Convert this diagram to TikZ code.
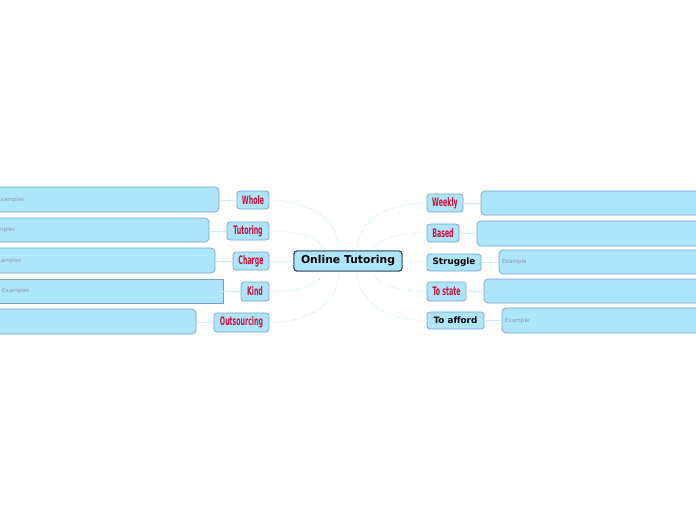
\documentclass[tikz,border=0pt]{standalone}
\usepackage{fontspec}
\setmainfont{DejaVu Sans}
\newfontfamily\condfont{DejaVu Sans Condensed}
\usetikzlibrary{calc}
\definecolor{nodefill}{HTML}{ADE5FD}
\definecolor{nodeborder}{HTML}{7A9FCB}
\definecolor{centerborder}{HTML}{1C2F4C}
\definecolor{redtext}{HTML}{D0103A}
\definecolor{dotline}{HTML}{A6DCF4}
\definecolor{solidline}{HTML}{CDEBF8}
\definecolor{greytext}{HTML}{8A9AA6}
\newcommand{\redlbl}[1]{\scalebox{0.74}[1.25]{\condfont\bfseries\fontsize{9.4}{9}\selectfont\color{redtext}#1}}
\tikzset{
  topic/.style={draw=nodeborder, fill=nodefill, rounded corners=3pt, line width=0.7pt, inner sep=0pt, anchor=center},
  blacklbl/.style={font=\bfseries\fontsize{8.8}{9}\selectfont, text=black},
  central/.style={draw=centerborder, fill=nodefill, rounded corners=3pt, line width=0.9pt, inner sep=0pt, minimum width=108pt, minimum height=20pt, font=\bfseries\fontsize{10.8}{11}\selectfont},
  bigbox/.style={draw=nodeborder, fill=nodefill, rounded corners=4pt, line width=0.7pt},
  boxtxt/.style={font=\fontsize{5.6}{6}\selectfont, text=greytext, anchor=west, inner sep=0pt},
  dotcon/.style={draw=dotline, dotted, line width=0.8pt},
  solcon/.style={draw=solidline, line width=0.8pt},
}
\begin{document}
\begin{tikzpicture}[x=1pt,y=-1pt]
\useasboundingbox (0,0) rectangle (696,520);
\fill[white] (0,0) rectangle (696,520);

% big boxes left
\draw[bigbox] (-6,187) rectangle (219,212); \coordinate (L1) at (219,199.5);
\draw[bigbox] (-14,218) rectangle (209,242); \coordinate (L2) at (209,230);
\draw[bigbox] (-8,248) rectangle (215,273); \coordinate (L3) at (215,260.5);
\draw[draw=nodeborder, fill=nodefill, line width=0.7pt] (-2,279) rectangle (223,303); \coordinate (L4) at (223,291);
\draw[bigbox] (-10,309) rectangle (196,334); \coordinate (L5) at (196,321.5);
\node[boxtxt] (t1) at (-3,199.5) {Examples};
\node[boxtxt] (t2) at (-12,230) {Examples};
\node[boxtxt] (t3) at (-6,260.5) {Examples};
\node[boxtxt] (t4) at (2,291) {Examples};

% big boxes right
\draw[bigbox] (481,191) rectangle (720,215); \coordinate (R1) at (481,203);
\draw[bigbox] (477,221) rectangle (720,246); \coordinate (R2) at (477,233);
\draw[bigbox] (499,250) rectangle (720,274); \coordinate (R3) at (499,262);
\draw[bigbox] (484,279) rectangle (720,303); \coordinate (R4) at (484,291);
\draw[bigbox] (502,308) rectangle (720,333); \coordinate (R5) at (502,320.5);
\node[boxtxt] (t5) at (502,262) {Example};
\node[boxtxt] (t6) at (505,320.5) {Example};

% left topics
\node[topic, minimum width=32pt, minimum height=18pt] (whole) at (253,200) {\redlbl{Whole}};
\node[topic, minimum width=42pt, minimum height=18pt] (tut) at (248,231) {\redlbl{Tutoring}};
\node[topic, minimum width=36pt, minimum height=18pt] (charge) at (251,261) {\redlbl{Charge}};
\node[topic, minimum width=28pt, minimum height=19pt] (kind) at (255,291.5) {\redlbl{Kind}};
\node[topic, minimum width=55pt, minimum height=19pt] (outs) at (241.5,322.5) {\redlbl{Outsourcing}};

% right topics
\node[topic, minimum width=36pt, minimum height=18pt] (weekly) at (445,203) {\redlbl{Weekly}};
\node[topic, minimum width=32pt, minimum height=18pt] (based) at (443,233) {\redlbl{Based}};
\node[topic, blacklbl, minimum width=54pt, minimum height=17pt] (strug) at (454,262.5) {Struggle};
\node[topic, minimum width=39pt, minimum height=19pt] (tostate) at (446.5,291.5) {\redlbl{To state}};
\node[topic, blacklbl, minimum width=57pt, minimum height=17pt] (toaff) at (455.5,320.5) {To afford};

% short connectors
\draw[solcon] (whole.west) -- (whole.west -| L1);
\draw[solcon] (tut.west) -- (tut.west -| L2);
\draw[solcon] (charge.west) -- (charge.west -| L3);
\draw[solcon] (kind.west) -- (kind.west -| L4);
\draw[solcon] (outs.west) -- (outs.west -| L5);
\draw[solcon] (weekly.east) -- (weekly.east -| R1);
\draw[solcon] (based.east) -- (based.east -| R2);
\draw[solcon] (strug.east) -- (strug.east -| R3);
\draw[solcon] (tostate.east) -- (tostate.east -| R4);
\draw[solcon] (toaff.east) -- (toaff.east -| R5);

% center (placed for anchors)
\path (348,261) coordinate (cc);
\node[central] (c) at (cc) {Online Tutoring};

% dotted curves
\coordinate (nlo) at ($(c.north)+(-9,0)$);
\coordinate (nli) at ($(c.north)+(-25,0)$);
\coordinate (nro) at ($(c.north)+(9,0)$);
\coordinate (nri) at ($(c.north)+(26,0)$);
\coordinate (slo) at ($(c.south)+(-9,0)$);
\coordinate (sli) at ($(c.south)+(-25,0)$);
\coordinate (sro) at ($(c.south)+(9,0)$);
\coordinate (sri) at ($(c.south)+(26,0)$);
\draw[dotcon] (nlo) .. controls ($(nlo)!0.6!(nlo |- whole.east)$) and ($(whole.east)!0.6!(nlo |- whole.east)$) .. (whole.east);
\draw[dotcon] (nli) .. controls ($(nli)!0.6!(nli |- tut.east)$) and ($(tut.east)!0.6!(nli |- tut.east)$) .. (tut.east);
\draw[dotcon] (c.west) -- (charge.east);
\draw[dotcon] (sli) .. controls ($(sli)!0.6!(sli |- kind.east)$) and ($(kind.east)!0.6!(sli |- kind.east)$) .. (kind.east);
\draw[dotcon] (slo) .. controls ($(slo)!0.6!(slo |- outs.east)$) and ($(outs.east)!0.6!(slo |- outs.east)$) .. (outs.east);
\draw[dotcon] (nro) .. controls ($(nro)!0.6!(nro |- weekly.west)$) and ($(weekly.west)!0.6!(nro |- weekly.west)$) .. (weekly.west);
\draw[dotcon] (nri) .. controls ($(nri)!0.6!(nri |- based.west)$) and ($(based.west)!0.6!(nri |- based.west)$) .. (based.west);
\draw[dotcon] (c.east) -- (strug.west);
\draw[dotcon] (sri) .. controls ($(sri)!0.6!(sri |- tostate.west)$) and ($(tostate.west)!0.6!(sri |- tostate.west)$) .. (tostate.west);
\draw[dotcon] (sro) .. controls ($(sro)!0.6!(sro |- toaff.west)$) and ($(toaff.west)!0.6!(sro |- toaff.west)$) .. (toaff.west);

% center drawn again on top of curve ends
\node[central] (c2) at (cc) {Online Tutoring};
\end{tikzpicture}
\end{document}
